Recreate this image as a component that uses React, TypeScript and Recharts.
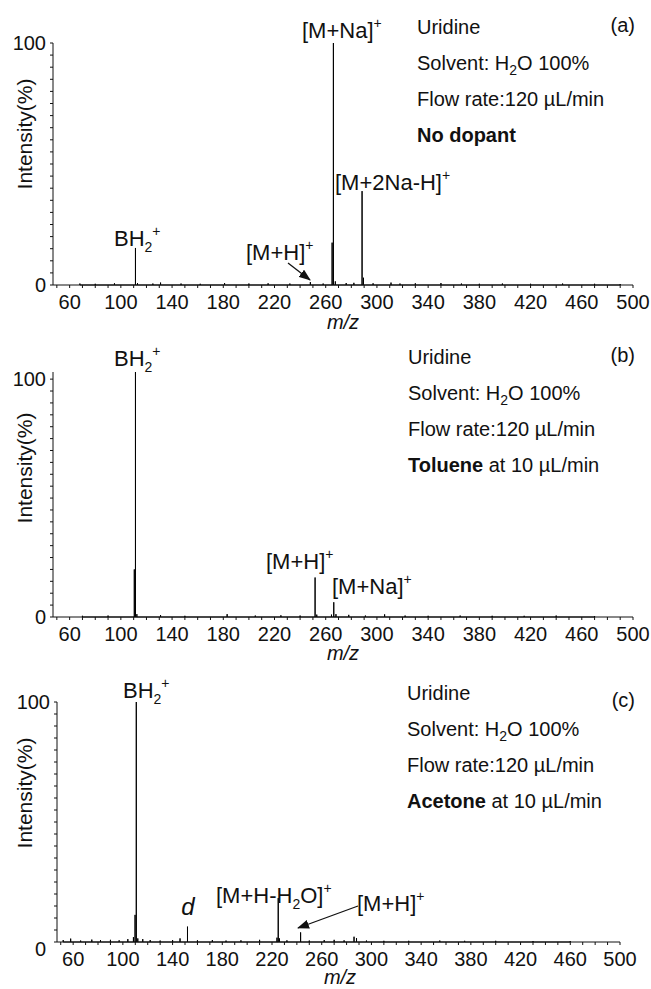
import React from "react";
import { LineChart, Line, XAxis, YAxis } from "recharts";

// peak lists (m/z, relative intensity %)
const A_MZ = [68, 80, 95, 111.4, 113, 125, 131, 147, 162, 181, 200, 215, 232, 248, 258, 265, 266, 267.5, 276, 282, 288.4, 289.5, 297, 311, 318, 330, 350, 366, 380, 398, 420, 445, 470, 490];
const A_INT = [0.6, 0.5, 0.7, 15.3, 0.8, 0.6, 1.0, 0.6, 0.5, 0.8, 0.6, 0.7, 0.6, 1.2, 0.6, 17.5, 100, 1.5, 0.8, 0.9, 38.8, 3, 0.7, 1.0, 0.6, 0.7, 0.8, 0.6, 0.5, 0.6, 0.5, 0.6, 0.5, 0.4];

const B_MZ = [70, 90, 110.5, 111.4, 112.5, 131, 150, 183, 205, 225, 240, 251.7, 253, 264.5, 266.3, 268, 278, 291, 306, 322, 340, 365, 390, 415, 440, 470];
const B_INT = [0.5, 0.6, 20, 103, 1.2, 0.8, 0.5, 1.2, 0.6, 0.7, 0.6, 16.6, 1.0, 1.0, 6.2, 1.2, 0.9, 0.6, 1.1, 0.6, 0.5, 0.6, 0.5, 0.5, 0.6, 0.4];

const C_MZ = [52, 58, 66, 75, 82, 90, 97, 104, 108.5, 109.8, 110.8, 112, 116, 122, 130, 140, 146, 152, 160, 172, 183, 195, 210, 224, 225, 226, 232, 243, 250, 262, 270, 278, 286, 288, 296, 310, 330, 355, 375, 400, 430, 460];
const C_INT = [0.8, 1.4, 0.6, 1.0, 0.8, 0.9, 0.7, 1.2, 2.0, 11.3, 100, 1.5, 1.2, 0.8, 0.6, 0.8, 1.5, 6.4, 0.7, 0.8, 0.6, 0.7, 0.9, 1.8, 18.3, 1.5, 0.7, 4.0, 0.6, 0.8, 0.9, 0.7, 2.2, 1.6, 0.6, 0.5, 0.5, 0.6, 0.5, 0.5, 0.4, 0.4];

const X_LABELS = [60, 100, 140, 180, 220, 260, 300, 340, 380, 420, 460, 500];
const Y_LABELS = [0, 100];
const X_MINOR = Array.from({ length: 46 }, (_, k) => 50 + k * 10);
const Y_MINOR = Array.from({ length: 21 }, (_, k) => k * 5);

const FONT = '"Liberation Sans", Arial, Helvetica, sans-serif';
const INK = "#111";

// stick spectrum -> continuous trace
function toTrace(mz: number[], it: number[]) {
  const idx = mz.map((_, k) => k).sort((p, q) => mz[p] - mz[q]);
  const out: { mz: number; i: number }[] = [];
  idx.forEach((k) => {
    out.push({ mz: mz[k], i: 0 });
    out.push({ mz: mz[k], i: it[k] });
    out.push({ mz: mz[k], i: 0 });
  });
  return out;
}

const PANELS = [
  { key: "a", top: 0, height: 330, yWidth: 53, yMax: 100, margin: { top: 43, right: 18, left: 0, bottom: 15 }, zeroDx: 0, zeroDy: 0, data: toTrace(A_MZ, A_INT) },
  { key: "b", top: 330, height: 330, yWidth: 53, yMax: 103, margin: { top: 42, right: 18, left: 0, bottom: 13 }, zeroDx: 0, zeroDy: 0, data: toTrace(B_MZ, B_INT) },
  { key: "c", top: 660, height: 329, yWidth: 57, yMax: 100, margin: { top: 42, right: 31, left: 0, bottom: 17 }, zeroDx: -4, zeroDy: 7, data: toTrace(C_MZ, C_INT) },
];

const TICK = 20;

function Spectrum({ p }: { p: (typeof PANELS)[number] }) {
  const xTick = (props: any) => {
    const v = props.payload.value;
    if (!X_LABELS.includes(v)) return <g />;
    return (
      <text x={props.x} y={props.y + 19} textAnchor="middle" fontSize={TICK} fontFamily={FONT} fill={INK}>
        {v}
      </text>
    );
  };
  const yTick = (props: any) => {
    const v = props.payload.value;
    if (!Y_LABELS.includes(v)) return <g />;
    const dx = v === 0 ? p.zeroDx : 0;
    const dy = v === 0 ? p.zeroDy : 0;
    return (
      <text x={props.x - 2 + dx} y={props.y + 7 + dy} textAnchor="end" fontSize={TICK} fontFamily={FONT} fill={INK}>
        {v}
      </text>
    );
  };
  return (
    <div style={{ position: "absolute", left: 0, top: p.top }}>
      <LineChart width={651} height={p.height} data={p.data} margin={p.margin}>
        <XAxis
          dataKey="mz"
          type="number"
          domain={[47, 500]}
          ticks={X_MINOR}
          interval={0}
          height={30}
          tickSize={3}
          tick={xTick}
          axisLine={{ stroke: INK }}
          tickLine={{ stroke: INK }}
        />
        <YAxis
          type="number"
          domain={[0, p.yMax]}
          ticks={Y_MINOR}
          interval={0}
          width={p.yWidth}
          tickSize={3}
          tick={yTick}
          axisLine={{ stroke: INK }}
          tickLine={{ stroke: INK }}
        />
        <Line dataKey="i" type="linear" stroke="#000" strokeWidth={1} dot={false} isAnimationActive={false} />
      </LineChart>
    </div>
  );
}

const LBL = 22;
const ANN = 20;
const SUB = 14;

function Ion({ x, y, parts }: { x: number; y: number; parts: [string, number][] }) {
  // parts: text with baseline shift (0 normal, 1 sub, -1 sup)
  let prev = 0;
  return (
    <text x={x} y={y} fontSize={LBL} fontFamily={FONT} fill={INK}>
      {parts.map(([t, s], k) => {
        const off = s === 1 ? 6 : s === -1 ? -10 : 0;
        const dy = off - prev;
        prev = off;
        return (
          <tspan key={k} dy={dy} fontSize={s === 0 ? LBL : SUB}>
            {t}
          </tspan>
        );
      })}
    </text>
  );
}

function Notes({ x, y0, tag, tagY, dopant, rest }: { x: number; y0: number; tag: string; tagY: number; dopant: string; rest: string }) {
  return (
    <g fontFamily={FONT} fontSize={ANN} fill={INK}>
      <text x={x} y={y0}>Uridine</text>
      <text x={x} y={y0 + 36}>
        Solvent: H<tspan dy={5} fontSize={SUB}>2</tspan>
        <tspan dy={-5}>O 100%</tspan>
      </text>
      <text x={x} y={y0 + 72}>Flow rate:120 µL/min</text>
      <text x={x} y={y0 + 108}>
        <tspan fontWeight="bold">{dopant}</tspan>
        {rest}
      </text>
      <text x={635} y={tagY} textAnchor="end">{tag}</text>
    </g>
  );
}

function YLabel({ cy }: { cy: number }) {
  return (
    <text x={0} y={0} transform={`translate(32,${cy}) rotate(-90)`} textAnchor="middle" fontSize={21} fontFamily={FONT} fill={INK}>
      Intensity(%)
    </text>
  );
}

function MZ({ cx, y }: { cx: number; y: number }) {
  return (
    <text x={cx} y={y} textAnchor="middle" fontSize={20} fontStyle="italic" fontFamily={FONT} fill={INK}>
      m/z
    </text>
  );
}

export default function App() {
  return (
    <div style={{ position: "absolute", left: 0, top: 0, width: 651, height: 989, background: "#fff" }}>
      {PANELS.map((p) => (
        <Spectrum key={p.key} p={p} />
      ))}
      <svg width={651} height={989} style={{ position: "absolute", left: 0, top: 0, pointerEvents: "none" }}>
        <defs>
          <marker id="ah" markerUnits="userSpaceOnUse" markerWidth={12} markerHeight={9} refX={11} refY={4.5} orient="auto">
            <path d="M0,0 L12,4.5 L0,9 z" fill={INK} />
          </marker>
        </defs>

        {/* panel (a) */}
        <Ion x={302} y={38} parts={[["[M+Na]", 0], ["+", -1]]} />
        <Ion x={335} y={190} parts={[["[M+2Na-H]", 0], ["+", -1]]} />
        <Ion x={114} y={246} parts={[["BH", 0], ["2", 1], ["+", -1]]} />
        <Ion x={246} y={260} parts={[["[M+H]", 0], ["+", -1]]} />
        <line x1={288} y1={263} x2={310} y2={280} stroke={INK} strokeWidth={1.3} markerEnd="url(#ah)" />
        <Notes x={417} y0={34} tag="(a)" tagY={32} dopant="No dopant" rest="" />
        <YLabel cy={134} />
        <MZ cx={343} y={329} />

        {/* panel (b) */}
        <Ion x={114} y={366} parts={[["BH", 0], ["2", 1], ["+", -1]]} />
        <Ion x={266} y={569} parts={[["[M+H]", 0], ["+", -1]]} />
        <Ion x={332} y={594} parts={[["[M+Na]", 0], ["+", -1]]} />
        <Notes x={408} y0={364} tag="(b)" tagY={362} dopant="Toluene" rest=" at 10 µL/min" />
        <YLabel cy={468} />
        <MZ cx={343} y={660} />

        {/* panel (c) */}
        <Ion x={123} y={698} parts={[["BH", 0], ["2", 1], ["+", -1]]} />
        <text x={188} y={915} textAnchor="middle" fontSize={24} fontStyle="italic" fontFamily={FONT} fill={INK}>
          d
        </text>
        <Ion x={216} y={903} parts={[["[M+H-H", 0], ["2", 1], ["O]", 0], ["+", -1]]} />
        <Ion x={357} y={911} parts={[["[M+H]", 0], ["+", -1]]} />
        <line x1={358} y1={906} x2={298} y2={928} stroke={INK} strokeWidth={1.3} markerEnd="url(#ah)" />
        <Notes x={407} y0={700} tag="(c)" tagY={707} dopant="Acetone" rest=" at 10 µL/min" />
        <YLabel cy={793} />
        <MZ cx={340} y={984} />
      </svg>
    </div>
  );
}
